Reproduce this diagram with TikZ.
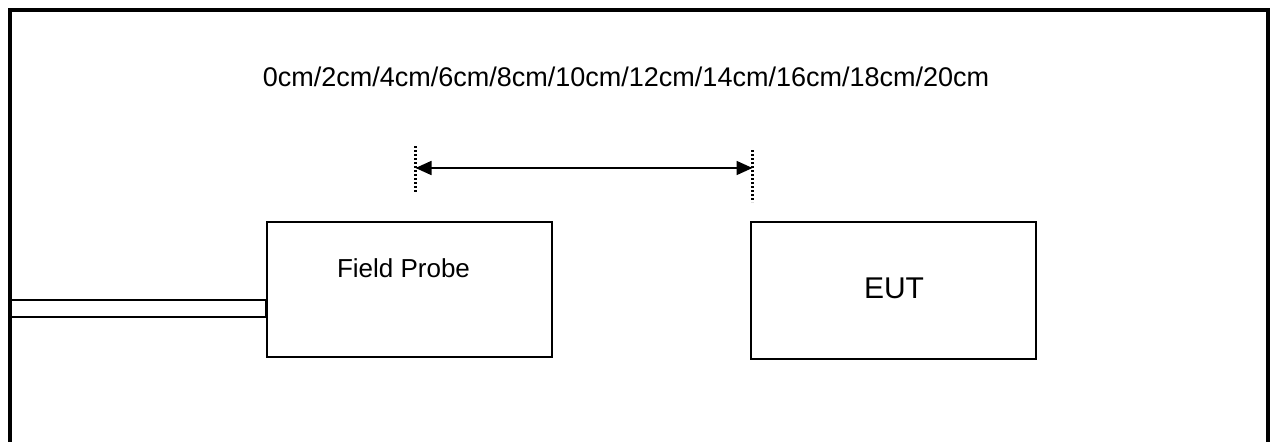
\documentclass[tikz,border=0pt]{standalone}
\usepackage{fontspec}
\setmainfont{Liberation Sans}
\usetikzlibrary{arrows.meta}

\tikzset{
  box/.style={draw, line width=2pt, minimum width=285pt, inner sep=0pt},
  marker/.style={line width=2.5pt, dash pattern=on 2pt off 2pt},
}

\begin{document}
\begin{tikzpicture}[x=1pt, y=-1pt]
            \useasboundingbox (0,0) rectangle (1270,442);
            \clip (0,0) rectangle (1270,442);
            \draw[line width=4pt] (10,450) -- (10,10) -- (1267.5,10) -- (1267.5,450);

            \node[box, minimum height=135pt] (probe) at (409.5,289.5) {};
            \node[box, minimum height=137pt] (eut) at (893.5,290.5) {};
            \node[font=\fontsize{26}{30}\selectfont] (probetext) at (403.5,268) {Field Probe};
            \node[font=\fontsize{30}{34}\selectfont] (euttext) at (894,288) {EUT};

            % cable into the probe
            \draw[line width=1.6pt] (10,300) rectangle (probe.west |- 0,316.7);

            % distance marks
            \node[font=\fontsize{27}{32}\selectfont] (distances) at (626,77) {0cm/2cm/4cm/6cm/8cm/10cm/12cm/14cm/16cm/18cm/20cm};
            \coordinate (markL) at (415.5,168);
            \coordinate (markR) at (752.5,168);
            \draw[marker] (415.5,146) -- (415.5,193);
            \draw[marker] (752.5,150) -- (752.5,202);
            \draw[line width=1.8pt, {Triangle[length=16pt,width=14pt]}-{Triangle[length=16pt,width=14pt]}] (markL) -- (markR);
\end{tikzpicture}
\end{document}
